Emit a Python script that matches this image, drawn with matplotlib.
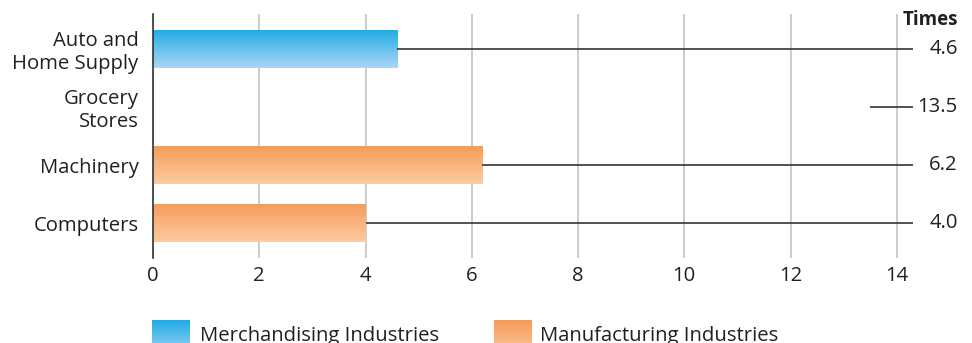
import numpy as np
import matplotlib
matplotlib.use("Agg")
import matplotlib.pyplot as plt
from matplotlib.colors import LinearSegmentedColormap

categories = ["Auto and\nHome Supply", "Grocery\nStores", "Machinery", "Computers"]
values = [4.6, 13.5, 6.2, 4.0]
value_labels = ["4.6", "13.5", "6.2", "4.0"]
groups = ["merch", "none", "manuf", "manuf"]
xticks = [0, 2, 4, 6, 8, 10, 12, 14]
legend_labels = ["Merchandising Industries", "Manufacturing Industries"]

plt.rcParams["font.family"] = ["Open Sans", "DejaVu Sans"]
text_color = "#231f20"
fs = 14.6

cmaps = {
    "merch": LinearSegmentedColormap.from_list("merch", ["#22ace5", "#aad7f4"]),
    "manuf": LinearSegmentedColormap.from_list("manuf", ["#f69c5a", "#fccca2"]),
}
grad = np.linspace(0, 1, 256).reshape(-1, 1)

fig = plt.figure(figsize=(9.72, 3.43), dpi=100)
ax = fig.add_axes([153 / 972, 1 - 258 / 343, (912.7 - 153) / 972, 244 / 343])

y = np.arange(len(categories))
bar_h = 0.655
bars = ax.barh(y, values, height=bar_h, facecolor="none", edgecolor="none", zorder=2)
for bar, grp in zip(bars, groups):
    if grp == "none":
        continue
    # vertical gradient filling each bar, top darker
    x0, y0 = bar.get_x(), bar.get_y()
    w, h = bar.get_width(), bar.get_height()
    ax.imshow(grad, cmap=cmaps[grp], aspect="auto",
              extent=(x0, x0 + w, y0 + h, y0), zorder=2)
ax.set_xlim(0, 14.3)
ax.set_ylim(3.603, -0.603)

# leader lines from bar end to the value label
ax.hlines(y, values, 14.3, color="#333333", lw=1.2, zorder=3, clip_on=False)
for yi, lab in zip(y, value_labels):
    ax.text(15.15, yi, lab, ha="right", va="center", fontsize=fs,
            color=text_color, clip_on=False)
ax.text(15.15, -0.5, "Times", ha="right", va="center", fontsize=13.5,
        fontweight="bold", color=text_color, clip_on=False)

ax.set_xticks(xticks)
ax.set_xticklabels([str(t) for t in xticks], fontsize=fs, color=text_color)
ax.set_yticks(y)
ax.set_yticklabels(categories, fontsize=fs, color=text_color, multialignment="right")
ax.tick_params(axis="both", length=0)
ax.tick_params(axis="x", pad=6)
ax.tick_params(axis="y", pad=10.5)
ax.grid(axis="x", color="#c2c2c2", lw=1.2, zorder=1)
ax.set_axisbelow(True)
for s in ["top", "right", "bottom"]:
    ax.spines[s].set_visible(False)
ax.spines["left"].set_color("#333333")
ax.spines["left"].set_linewidth(1.2)
ax.spines["left"].set_zorder(4)

# legend at the bottom, cut by the figure edge as in the original
for x0, grp, lab, tx in [(152, "merch", legend_labels[0], 200),
                         (494, "manuf", legend_labels[1], 540)]:
    lax = fig.add_axes([x0 / 972, 1 - 358 / 343, 38 / 972, 38 / 343])
    lax.imshow(grad, cmap=cmaps[grp], aspect="auto")
    lax.axis("off")
    fig.text(tx / 972, 1 - 341 / 343, lab, ha="left", va="baseline",
             fontsize=fs, color=text_color)

fig.savefig("out.png", dpi=100)
